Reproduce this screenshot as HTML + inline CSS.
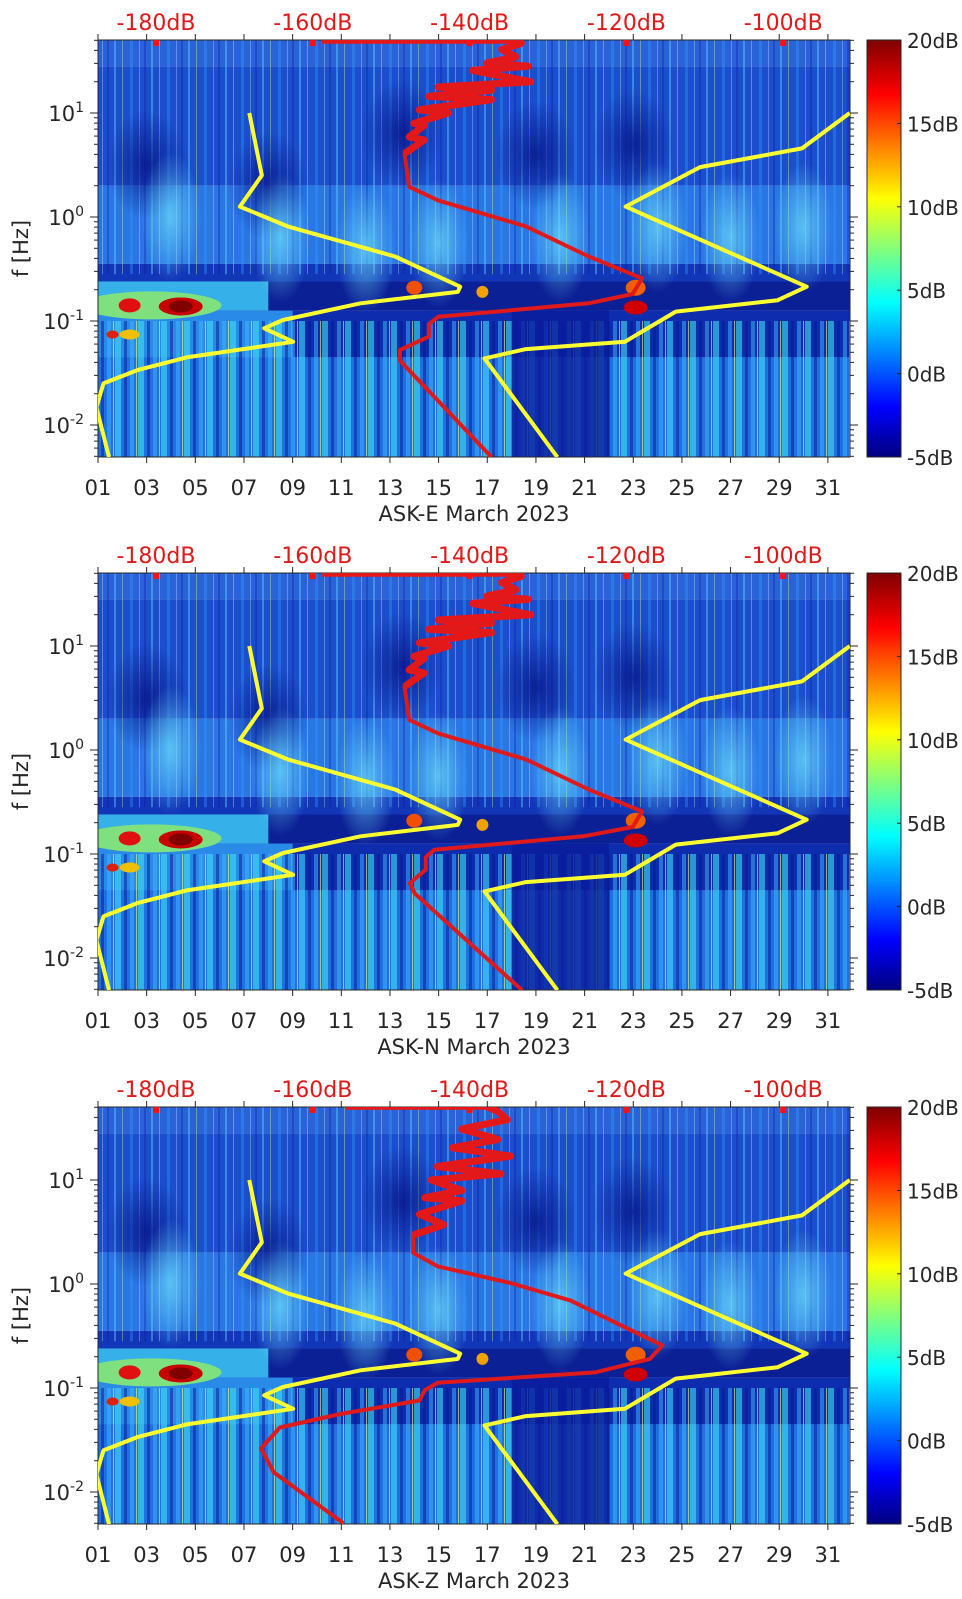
<!DOCTYPE html>
<html><head><meta charset="utf-8"><title>ASK spectrograms March 2023</title>
<style>
html,body{margin:0;padding:0;background:#fff;overflow:hidden;width:962px;height:1599px;}
svg{display:block;font-family:"DejaVu Sans","Liberation Sans",sans-serif;}
</style></head>
<body>
<svg id="fig" width="962" height="1599" viewBox="0 0 962 1599" xmlns="http://www.w3.org/2000/svg">
<defs>
<linearGradient id="jet" x1="0" y1="1" x2="0" y2="0">
<stop offset="0" stop-color="#00007f"/><stop offset="0.12" stop-color="#0000ff"/>
<stop offset="0.37" stop-color="#00ffff"/><stop offset="0.62" stop-color="#ffff00"/>
<stop offset="0.87" stop-color="#ff0000"/><stop offset="1" stop-color="#7f0000"/>
</linearGradient>
<radialGradient id="plume"><stop offset="0" stop-color="#6ee0f8" stop-opacity="0.7"/><stop offset="1" stop-color="#6ee0f8" stop-opacity="0"/></radialGradient>
<radialGradient id="dark"><stop offset="0" stop-color="#061488" stop-opacity="0.8"/><stop offset="1" stop-color="#061488" stop-opacity="0"/></radialGradient>
<pattern id="streaks" width="37" height="10" patternUnits="userSpaceOnUse">
<rect x="3" y="0" width="2" height="10" fill="#5fd0ff" opacity="0.55"/>
<rect x="11" y="0" width="1" height="10" fill="#d8f070" opacity="0.5"/>
<rect x="19" y="0" width="3" height="10" fill="#2fa0ff" opacity="0.45"/>
<rect x="28" y="0" width="1" height="10" fill="#ffffff" opacity="0.35"/>
<rect x="33" y="0" width="2" height="10" fill="#0a1a9a" opacity="0.4"/>
</pattern>
<pattern id="cols" width="23" height="10" patternUnits="userSpaceOnUse">
<rect x="0" y="0" width="6" height="10" fill="#3fe0f0" opacity="0.6"/>
<rect x="9" y="0" width="3" height="10" fill="#0a1890" opacity="0.5"/>
<rect x="15" y="0" width="4" height="10" fill="#40b8ff" opacity="0.5"/>
<rect x="21" y="0" width="1" height="10" fill="#ffff60" opacity="0.6"/>
</pattern>
</defs>
</svg>
<script>
const days=[1,3,5,7,9,11,13,15,17,19,21,23,25,27,29,31];
const dbTicks=[-180,-160,-140,-120,-100];
const decades=[1,0,-1,-2];
const cbTicks=[20,15,10,5,0,-5];
const nlnmDb=[-168.1,-166.5,-169.3,-163.2,-149.5,-141.2,-141.5,-153.9,-163.8,-166.2,-162.5,-176.1,-182.3,-186.7,-187.6,-186.0];
const nlnmLogF=[1.0,0.40,0.10,-0.09,-0.38,-0.67,-0.72,-0.83,-0.99,-1.07,-1.20,-1.35,-1.47,-1.60,-1.83,-2.31];
const nhnmDb=[-91.5,-97.6,-110.6,-120.1,-97.0,-100.7,-113.7,-120.2,-132.8,-138.1,-128.8];
const nhnmLogF=[1.0,0.66,0.48,0.10,-0.67,-0.80,-0.91,-1.20,-1.27,-1.36,-2.31];
const redEDb=[-158.8,-133.6,-133.4,-135.9,-134.1,-137.8,-132.5,-139.6,-132.2,-144.0,-137.2,-145.2,-137.2,-146.4,-142.7,-147.1,-145.8,-147.7,-145.8,-148.3,-147.7,-144.0,-132.8,-124.8,-118.0,-119.2,-124.8,-144.0,-145.2,-145.2,-148.9,-148.9,-137.2];
const redELogF=[1.70,1.70,1.67,1.61,1.54,1.48,1.45,1.41,1.30,1.25,1.22,1.16,1.13,1.03,1.0,0.90,0.88,0.77,0.74,0.61,0.29,0.16,-0.09,-0.38,-0.59,-0.74,-0.83,-0.96,-1.03,-1.15,-1.28,-1.38,-2.31];
const redNDb=[-158.8,-133.6,-133.4,-135.9,-134.1,-137.8,-132.5,-139.6,-132.2,-144.0,-137.2,-145.2,-137.2,-146.4,-142.7,-147.1,-145.8,-147.7,-145.8,-148.3,-147.7,-144.0,-132.8,-124.8,-118.0,-119.2,-125.5,-144.5,-145.6,-145.6,-147.6,-147.0,-133.3];
const redNLogF=[1.70,1.70,1.67,1.61,1.54,1.48,1.45,1.41,1.30,1.25,1.22,1.16,1.13,1.03,1.0,0.90,0.88,0.77,0.74,0.61,0.29,0.16,-0.09,-0.38,-0.59,-0.74,-0.83,-0.96,-1.03,-1.15,-1.28,-1.38,-2.31];
const redZDb=[-155.8,-137.9,-136.4,-135.2,-141.0,-136.4,-142.2,-134.8,-144.1,-136.0,-144.9,-141.0,-145.7,-141.0,-146.4,-143.3,-147.2,-147.2,-144.1,-134.8,-127.1,-120.9,-115.4,-117.0,-122.4,-124.0,-144.1,-145.7,-146.4,-156.5,-164.2,-166.6,-165.0,-156.1];
const redZLogF=[1.71,1.71,1.66,1.58,1.49,1.39,1.31,1.23,1.13,1.06,1.0,0.90,0.83,0.80,0.67,0.57,0.47,0.30,0.17,0.01,-0.16,-0.39,-0.59,-0.72,-0.82,-0.85,-0.95,-1.02,-1.12,-1.25,-1.38,-1.58,-1.81,-2.30];
const panelNames=["ASK-E","ASK-N","ASK-Z"];
const panelTops=[40,573,1107];
const panelRed=[[redEDb,redELogF],[redNDb,redNLogF],[redZDb,redZLogF]];
const jaggedCount=[20,20,17];

const NS="http://www.w3.org/2000/svg";
const svg=document.getElementById('fig');
const L=98,R=850,H=417;
function xDay(d){return L+(d-1)*24.33;}
function xDb(db){return 156+(db+180)*7.84;}
function yF(T,lf){return T+73+(1-lf)*104;}
function mk(tag,attrs,parent){const e=document.createElementNS(NS,tag);for(const k in attrs)e.setAttribute(k,attrs[k]);(parent||svg).appendChild(e);return e;}

panelTops.forEach((T,pi)=>{
  const g=mk('g',{});
  
  
  const cp=mk('clipPath',{id:'clip'+pi},g);mk('rect',{x:L,y:T,width:R-L,height:H},cp);
  const bg=mk('g',{'clip-path':'url(#clip'+pi+')'},g);
  
  
  const band=(lf1,lf2,col,x1,x2)=>mk('rect',{x:x1||L,y:yF(T,lf1),width:(x2||R)-(x1||L),height:yF(T,lf2)-yF(T,lf1),fill:col},bg);
  band(1.75,1.45,'#2a62d8');band(1.45,0.3,'#1b4ecc');band(0.3,-0.45,'#2a76e4');
  band(-0.45,-0.62,'#1236b8');band(-0.62,-0.9,'#0c2096');band(-0.62,-0.9,'#36b0e8',L,xDay(8));
  band(-0.9,-1.35,'#0d2cae');band(-0.9,-1.35,'#2a8ae8',L,xDay(9));band(-1.35,-2.35,'#1f70e0');
  mk('rect',{x:L,y:T,width:R-L,height:yF(T,-0.55)-T,fill:'url(#streaks)',opacity:0.8},bg);
  mk('rect',{x:L,y:yF(T,-1.0),width:R-L,height:yF(T,-2.35)-yF(T,-1.0),fill:'url(#cols)'},bg);
  mk('rect',{x:xDay(18),y:yF(T,-0.9),width:xDay(22)-xDay(18),height:H,fill:'#0a1c9c',opacity:0.8},bg);
  [[3,0.5],[13.5,0.8],[19,0.6],[23,0.7],[8,0.3]].forEach(p=>{
    mk('ellipse',{cx:xDay(p[0]),cy:yF(T,p[1]),rx:40,ry:55,fill:'url(#dark)'},bg);});
  [[4,0.0],[8.5,-0.2],[12,-0.3],[15,-0.25],[20,-0.2],[24,-0.1],[27,-0.2],[30,-0.1]].forEach(p=>{
    mk('ellipse',{cx:xDay(p[0]),cy:yF(T,p[1]),rx:30,ry:65,fill:'url(#plume)'},bg);});
  const blob=(d,lf,rx,ry,c)=>mk('ellipse',{cx:xDay(d),cy:yF(T,lf),rx:rx,ry:ry,fill:c},bg);
  blob(3.2,-0.85,70,14,'#7fe080');blob(4.4,-0.86,22,9,'#c80000');blob(2.3,-0.85,11,7,'#e01010');
  blob(4.4,-0.86,12,6,'#800000');blob(2.3,-1.13,10,5,'#f0c000');blob(1.6,-1.13,6,4,'#e02000');
  blob(23.1,-0.87,12,7,'#d00000');blob(23.1,-0.68,10,8,'#f06000');blob(14,-0.68,8,7,'#f05000');blob(16.8,-0.72,6,6,'#f0a000');
  const fr=mk('rect',{x:L,y:T,width:R-L,height:H,fill:'none',stroke:'#262626','stroke-width':1},g);
  
  
  const cg=mk('g',{'clip-path':'url(#clip'+pi+')'},g);
  const line=(dbs,lfs,col,name,w)=>{
    const pts=dbs.map((v,i)=>xDb(v).toFixed(1)+','+yF(T,lfs[i]).toFixed(1)).join(' ');
    const pl=mk('polyline',{points:pts,fill:'none',stroke:col,'stroke-width':w,'stroke-linejoin':'round'},cg);
    
    
  };
  line(nlnmDb,nlnmLogF,'#ffff30','nlnm-curve',4);
  line(nhnmDb,nhnmLogF,'#ffff30','nhnm-curve',4);
  line(panelRed[pi][0].slice(0,jaggedCount[pi]),panelRed[pi][1].slice(0,jaggedCount[pi]),'#f01414','station-noise-curve-high',7);
  line(panelRed[pi][0],panelRed[pi][1],'#e01a1a','station-noise-curve',4);
  dbTicks.forEach(db=>{const d=mk('rect',{x:xDb(db)-3,y:T,width:6,height:6,fill:'#ff1010'},g);
    
    });
  days.forEach(d=>{
    const x=xDay(d);
    mk('line',{x1:x,y1:T+H,x2:x,y2:T+H+6,stroke:'#262626'},g);
    mk('line',{x1:x,y1:T,x2:x,y2:T-6,stroke:'#262626'},g);
    const t=mk('text',{x:x,y:T+H+38,'text-anchor':'middle','font-size':21,fill:'#262626'},g);
    t.textContent=(d<10?'0':'')+d;
    
    
  });
  const xt=mk('text',{x:474,y:T+H+64,'text-anchor':'middle','font-size':21,fill:'#262626'},g);
  xt.textContent=panelNames[pi]+' March 2023';
  
  
  dbTicks.forEach(db=>{
    const t=mk('text',{x:xDb(db),y:T-10,'text-anchor':'middle','font-size':22,fill:'#e01818'},g);
    t.textContent=db+'dB';
    
    
  });
  for(let dec=-3;dec<=1;dec++){for(let k=1;k<=9;k++){
    const lf=dec+Math.log10(k); const y=yF(T,lf);
    if(y<T-0.5||y>T+H+0.5)continue;
    const len=k===1?8:4;
    mk('line',{x1:L,y1:y,x2:L-len,y2:y,stroke:'#262626'},g);
    mk('line',{x1:R,y1:y,x2:R+len,y2:y,stroke:'#262626'},g);
  }}
  decades.forEach(dc=>{
    const y=yF(T,dc);
    const t=mk('text',{x:84,y:y+8,'text-anchor':'end','font-size':21,fill:'#262626'},g);
    
    
    t.appendChild(document.createTextNode('10'));
    const s=mk('tspan',{dy:-9,'font-size':14},t);s.textContent=String(dc);
  });
  const yt=mk('text',{x:28,y:T+H/2,'text-anchor':'middle','font-size':21,fill:'#262626',transform:'rotate(-90 28 '+(T+H/2)+')'},g);
  yt.textContent='f [Hz]';
  
  
  const cb=mk('rect',{x:867,y:T,width:34,height:H,fill:'url(#jet)',stroke:'#262626','stroke-width':1},g);
  
  
  cbTicks.forEach(v=>{
    const y=T+(20-v)/25*H;
    mk('line',{x1:897,y1:y,x2:901,y2:y,stroke:'#262626'},g);
    const t=mk('text',{x:907,y:y+8,'font-size':20,fill:'#262626'},g);
    t.textContent=v+'dB';
    
    
  });
});
</script>
</body></html>
